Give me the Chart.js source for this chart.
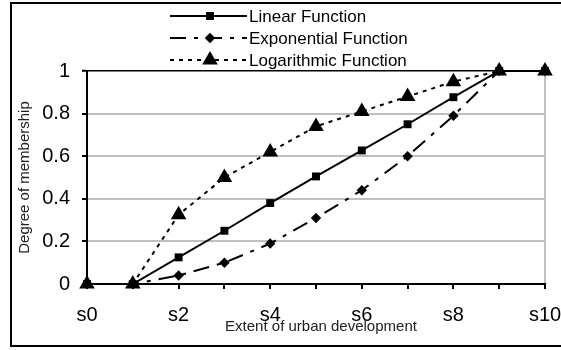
<!DOCTYPE html>
<html>
<head>
<meta charset="utf-8">
<script src="https://cdn.jsdelivr.net/npm/chart.js@4/dist/chart.umd.min.js"></script>
<style>
  html, body { margin: 0; padding: 0; background: #ffffff; }
  #wrap { width: 561px; height: 350px; position: relative; }
</style>
</head>
<body>
<div id="wrap"><canvas id="c" width="561" height="350"></canvas></div>
<script>
// ---- data ----
const categories = ['s0', 's1', 's2', 's3', 's4', 's5', 's6', 's7', 's8', 's9', 's10'];
const linearValues      = [0, 0, 0.125, 0.25, 0.38, 0.505, 0.627, 0.75, 0.877, 1, 1];
const exponentialValues = [0, 0, 0.04, 0.10, 0.19, 0.31, 0.44, 0.60, 0.79, 1, 1];
const logarithmicValues = [0, 0, 0.325, 0.50, 0.62, 0.74, 0.81, 0.88, 0.95, 1, 1];
const seriesNames = ['Linear Function', 'Exponential Function', 'Logarithmic Function'];
const yTickValues = [0, 0.2, 0.4, 0.6, 0.8, 1];
const xAxisTitle = 'Extent of urban development';
const yAxisTitle = 'Degree of membership';

const FONT = '"Liberation Sans", Arial, sans-serif';

const styles = [
  { dash: [], pointStyle: 'rect', radius: 5.6 },
  { dash: [16, 8, 4, 8], pointStyle: 'rectRot', radius: 5.2 },
  { dash: [4, 5], pointStyle: 'triangle', radius: 9 }
];
const seriesValues = [linearValues, exponentialValues, logarithmicValues];

const datasets = seriesValues.map((vals, i) => ({
  label: seriesNames[i],
  data: vals,
  borderColor: '#000',
  backgroundColor: '#000',
  borderWidth: 2,
  borderDash: styles[i].dash,
  pointStyle: styles[i].pointStyle,
  pointRadius: styles[i].radius,
  pointBackgroundColor: '#000',
  pointBorderColor: '#000',
  pointBorderWidth: 0,
  tension: 0,
  fill: false,
  clip: false
}));

function drawMarker(ctx, style, r, x, y) {
  if (Chart.helpers && Chart.helpers.drawPoint) {
    Chart.helpers.drawPoint(ctx, { pointStyle: style, radius: r, rotation: 0, borderWidth: 0 }, x, y);
    return;
  }
  ctx.beginPath();
  if (style === 'rect') {
    const s = Math.SQRT1_2 * r; ctx.rect(x - s, y - s, 2 * s, 2 * s);
  } else if (style === 'rectRot') {
    ctx.moveTo(x, y - r); ctx.lineTo(x + r, y); ctx.lineTo(x, y + r); ctx.lineTo(x - r, y); ctx.closePath();
  } else {
    ctx.moveTo(x, y - r); ctx.lineTo(x + r * 0.866, y + r / 2); ctx.lineTo(x - r * 0.866, y + r / 2); ctx.closePath();
  }
  ctx.fill();
}

const decor = {
  id: 'decor',
  beforeDraw(chart) {
    const ctx = chart.ctx;
    ctx.save();
    ctx.fillStyle = '#fff';
    ctx.fillRect(0, 0, chart.width, chart.height);
    ctx.restore();
  },
  afterDraw(chart) {
    const ctx = chart.ctx;
    const area = chart.chartArea;
    ctx.save();
    // outer frame
    ctx.strokeStyle = '#000';
    ctx.lineWidth = 2;
    ctx.beginPath();
    ctx.moveTo(563, 3); ctx.lineTo(11, 3); ctx.lineTo(11, 346); ctx.lineTo(563, 346);
    ctx.stroke();

    // legend
    const rows = [16, 38, 60];
    ctx.font = '17px ' + FONT;
    ctx.textBaseline = 'middle';
    ctx.textAlign = 'left';
    chart.data.datasets.forEach((ds, i) => {
      const y = rows[i];
      ctx.strokeStyle = '#000';
      ctx.lineWidth = 2;
      ctx.setLineDash(styles[i].dash);
      ctx.beginPath(); ctx.moveTo(170, y); ctx.lineTo(247, y); ctx.stroke();
      ctx.setLineDash([]);
      ctx.fillStyle = '#000';
      drawMarker(ctx, styles[i].pointStyle, styles[i].radius, 210, y);
      ctx.fillStyle = '#000';
      ctx.fillText(ds.label, 249, y + 1);
    });

    // axis titles
    ctx.fillStyle = '#222';
    ctx.font = '15px ' + FONT;
    ctx.textAlign = 'center';
    ctx.textBaseline = 'middle';
    ctx.fillText(xAxisTitle, 321, 327);
    ctx.translate(25, (area.top + area.bottom) / 2);
    ctx.rotate(-Math.PI / 2);
    ctx.fillText(yAxisTitle, 0, 0);
    ctx.restore();
  }
};

new Chart(document.getElementById('c'), {
  type: 'line',
  data: { labels: categories, datasets },
  plugins: [decor],
  options: {
    responsive: false,
    devicePixelRatio: 1,
    animation: false,
    events: [],
    layout: { padding: { left: 0, right: 16, top: 71, bottom: 0 } },
    plugins: { legend: { display: false }, tooltip: { enabled: false }, title: { display: false } },
    scales: {
      x: {
        type: 'category',
        offset: false,
        grid: {
          display: true,
          drawOnChartArea: true,
          color: (c) => (c.index === categories.length - 1 ? '#bfbfbf' : 'rgba(0,0,0,0)'),
          lineWidth: 2,
          tickColor: '#000',
          tickLength: 5,
          tickWidth: 2
        },
        border: { display: true, color: '#000', width: 2 },
        ticks: {
          autoSkip: false,
          maxRotation: 0,
          minRotation: 0,
          padding: 14,
          color: '#000',
          font: { family: FONT, size: 20 },
          callback: function (v, i) { return i % 2 === 0 ? categories[i] : ''; }
        },
        afterFit: (s) => { s.height = 66; s.paddingLeft = 0; s.paddingRight = 0; }
      },
      y: {
        min: 0,
        max: 1,
        afterBuildTicks: (s) => { s.ticks = yTickValues.map(v => ({ value: v })); },
        grid: {
          color: (c) => (c.tick && c.tick.value === 1 ? '#000' : (c.tick && c.tick.value === 0 ? 'rgba(0,0,0,0)' : '#bfbfbf')),
          lineWidth: (c) => (c.tick && c.tick.value === 1 ? 1.5 : 2),
          tickColor: '#000',
          tickLength: 5,
          tickWidth: 2
        },
        border: { display: true, color: '#000', width: 2 },
        ticks: {
          padding: 12,
          color: '#000',
          font: { family: FONT, size: 20 },
          callback: (v) => String(Math.round(v * 10) / 10)
        },
        afterFit: (s) => { s.width = 87; s.paddingTop = 0; s.paddingBottom = 0; }
      }
    }
  }
});
</script>
</body>
</html>
